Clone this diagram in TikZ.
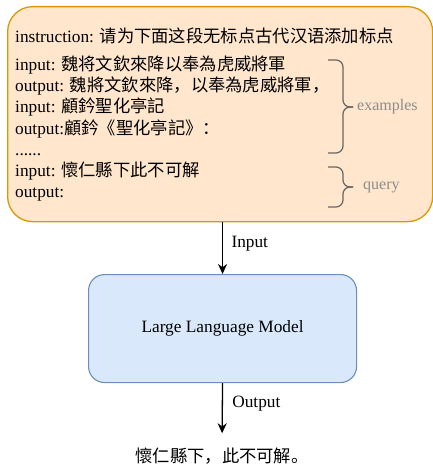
\documentclass[tikz,border=0pt]{standalone}
\usepackage{fontspec}
\setmainfont{Liberation Serif}
\newfontfamily\cjk{Noto Sans CJK SC}
\usepackage{tikz}
\usetikzlibrary{arrows.meta, positioning, calc}
\usepackage{xcolor}
\definecolor{promptfill}{HTML}{FFE6CC}
\definecolor{promptline}{HTML}{D79B00}
\definecolor{llmfill}{HTML}{DAE8FC}
\definecolor{llmline}{HTML}{6C8EBF}
\definecolor{bracegray}{HTML}{666666}
\definecolor{notegray}{HTML}{8C8C8C}

\begin{document}
\begin{tikzpicture}[
    x=1pt, y=-1pt,
    font=\fontsize{17.3}{21}\selectfont,
    prompt/.style={draw=promptline, fill=promptfill, line width=1.3pt,
                   rounded corners=25pt, minimum width=425pt,
                   minimum height=215pt, anchor=north west},
    model/.style={draw=llmline, fill=llmfill, line width=1.1pt,
                  rounded corners=16pt, minimum width=268pt,
                  minimum height=108pt, anchor=north west},
    line/.style={anchor=base west, inner sep=0pt},
    note/.style={text=notegray, font=\fontsize{16}{19}\selectfont,
                 anchor=west, inner sep=0pt},
    curly/.style={draw=bracegray, line width=1.2pt, rounded corners=7pt},
    arr/.style={-{Stealth[length=10pt, width=9pt]}, line width=1.3pt}
  ]
    \useasboundingbox (0,0) rectangle (432,468);
    \node[prompt] (prompt) at (7,6) {};
    \node[model] (llm) at (88,274) {Large Language Model};

    % prompt text
    \node[line] (instr) at (15,43)
      {instruction: {\cjk 请为下面这段无标点古代汉语添加标点}};
    \node[line] (exin) at (15,71) {input: {\cjk 魏将文欽來降以奉為虎威將軍}};
    \node[line] (exout) at (15,92) {output: {\cjk 魏將文欽來降，以奉為虎威將軍，}};
    \node[line] (exin2) at (15,113) {input: {\cjk 顧鈐聖化亭記}};
    \node[line] (exout2) at (15,134) {output:{\cjk 顧鈐《聖化亭記》：}};
    \node[line] (dots) at (15,155) {......};
    \node[line] (qin) at (15,176) {input: {\cjk 懷仁縣下此不可解}};
    \node[line] (qout) at (15,197) {output:};

    % braces
    \draw[curly] (328,60) -- (343,60) -- (343,107) -- (353,107);
    \draw[curly] (353,107) -- (343,107) -- (343,153) -- (328,153);
    \node[note] (examples) at (357,107) {examples};
    \draw[curly] (328,167) -- (343,167) -- (343,187) -- (353,187);
    \draw[curly] (353,187) -- (343,187) -- (343,207) -- (328,207);
    \node[note] (query) at (363,187) {query};

    \node (answer) at (222,456) {\cjk 懷仁縣下，此不可解。};

    \draw[arr] (llm.north |- prompt.south) -- (llm.north)
      node[pos=0.42, right=5pt] {Input};
    \draw[arr, shorten >=11pt] (llm.south) -- (answer.north)
      node[pos=0.34, right=6pt] {Output};
  \end{tikzpicture}
\end{document}
